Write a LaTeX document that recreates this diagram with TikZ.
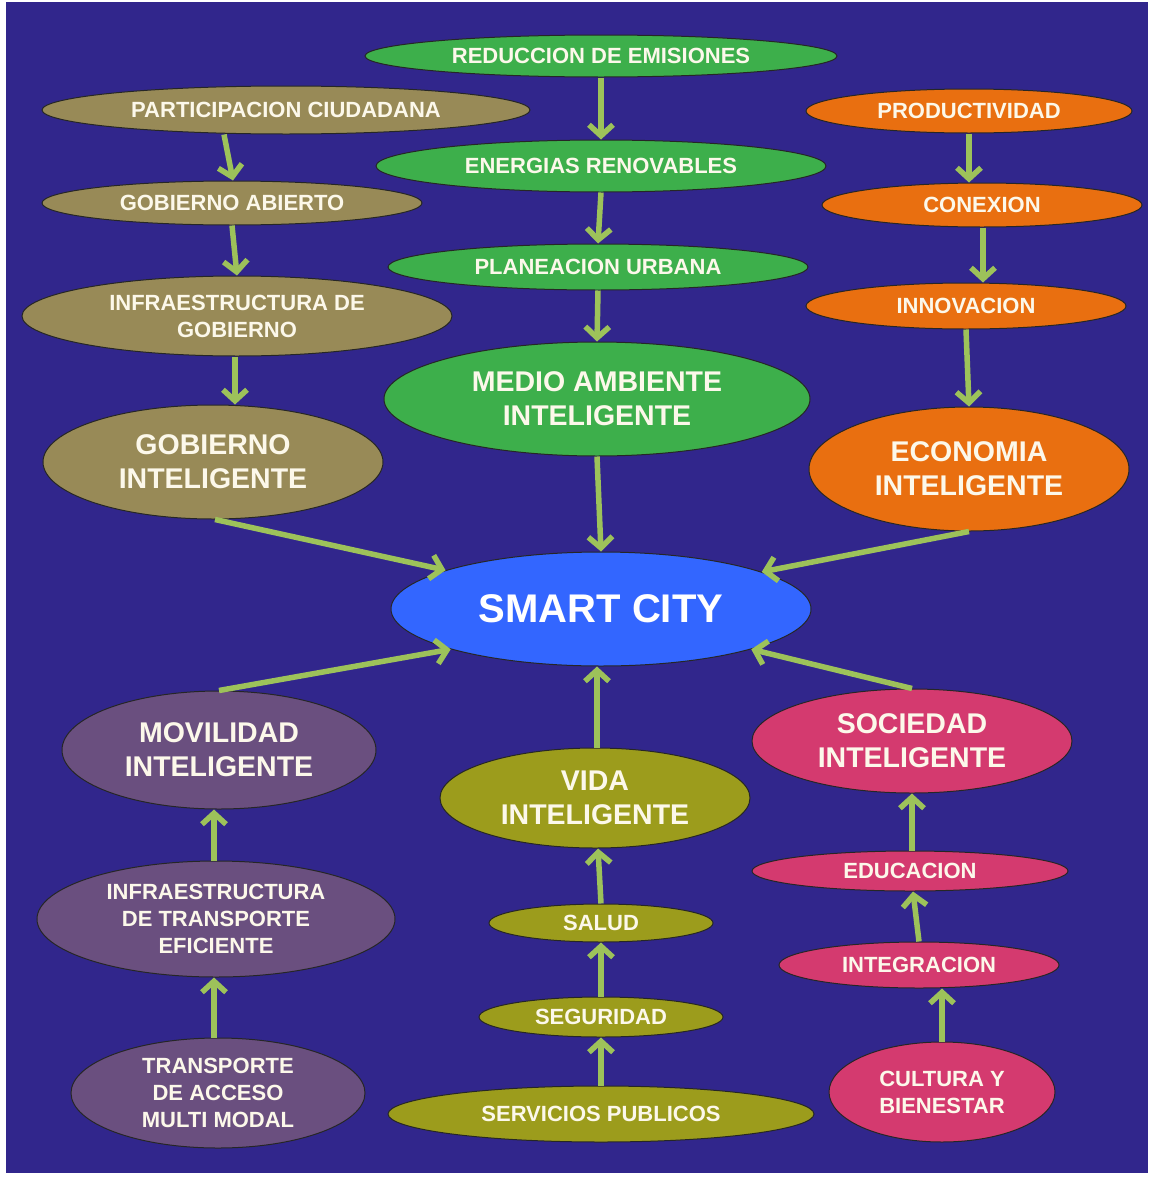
\documentclass[tikz,border=0pt]{standalone}
\usepackage{fontspec}
\setmainfont{Liberation Sans}
\usetikzlibrary{shapes.geometric,arrows.meta,calc}
\definecolor{bg}{RGB}{49,38,140}
\definecolor{txt}{RGB}{252,248,234}
\definecolor{khaki}{RGB}{152,138,87}
\definecolor{grn}{RGB}{61,175,75}
\definecolor{org}{RGB}{233,111,16}
\definecolor{blu}{RGB}{51,102,255}
\definecolor{pur}{RGB}{106,79,127}
\definecolor{olv}{RGB}{156,156,28}
\definecolor{pnk}{RGB}{212,58,111}
\definecolor{arrc}{RGB}{157,194,90}
\begin{document}
\begin{tikzpicture}[x=1pt,y=-1pt,
  el/.style={ellipse,draw=black!85,line width=1pt,inner sep=0pt,text=txt,align=center,
     font=\bfseries\fontsize{22}{27}\selectfont},
  big/.style={font=\bfseries\fontsize{28.5}{34}\selectfont},
  sz/.style 2 args={minimum width=#1pt,minimum height=#2pt},
  arr/.style={draw=arrc,line width=5.5pt,-{Straight Barb[length=11pt,width=24pt]}}]
\useasboundingbox (0,0) rectangle (1151,1178);
\fill[white] (0,0) rectangle (1151,1178);
\fill[bg] (6,2) rectangle (1148,1173);
% green column
\node[el,fill=grn,sz={472}{42}] (re) at (601,56) {REDUCCION DE EMISIONES};
\node[el,fill=grn,sz={450}{52}] (er) at (601,166) {ENERGIAS RENOVABLES};
\node[el,fill=grn,sz={420}{46}] (pu) at (598,267) {PLANEACION URBANA};
\node[el,big,fill=grn,sz={426}{114}] (ma) at (597,399) {MEDIO AMBIENTE\\INTELIGENTE};
% khaki column
\node[el,fill=khaki,sz={488}{48}] (pc) at (286,110) {PARTICIPACION CIUDADANA};
\node[el,fill=khaki,sz={380}{44}] (ga) at (232,203) {GOBIERNO ABIERTO};
\node[el,fill=khaki,sz={430}{80}] (ig) at (237,316) {INFRAESTRUCTURA DE\\GOBIERNO};
\node[el,big,fill=khaki,sz={340}{114}] (gi) at (213,462) {GOBIERNO\\INTELIGENTE};
% orange column
\node[el,fill=org,sz={326}{44}] (pr) at (969,111) {PRODUCTIVIDAD};
\node[el,fill=org,sz={320}{44}] (co) at (982,205) {CONEXION};
\node[el,fill=org,sz={320}{46}] (in) at (966,306) {INNOVACION};
\node[el,big,fill=org,sz={320}{124}] (ei) at (969,469) {ECONOMIA\\INTELIGENTE};
% center
\node[el,fill=blu,sz={420}{114},font=\bfseries\fontsize{40}{46}\selectfont,text=white] (sc) at (601,609) {SMART CITY};
% purple column
\node[el,big,fill=pur,sz={314}{118}] (mi) at (219,750) {MOVILIDAD\\INTELIGENTE};
\node[el,fill=pur,sz={358}{116}] (it) at (216,919) {INFRAESTRUCTURA\\DE TRANSPORTE\\EFICIENTE};
\node[el,fill=pur,sz={294}{110}] (ta) at (218,1093) {TRANSPORTE\\DE ACCESO\\MULTI MODAL};
% olive column
\node[el,big,fill=olv,sz={310}{100}] (vi) at (595,798) {VIDA\\INTELIGENTE};
\node[el,fill=olv,sz={224}{38}] (sa) at (601,923) {SALUD};
\node[el,fill=olv,sz={244}{40}] (se) at (601,1017) {SEGURIDAD};
\node[el,fill=olv,sz={426}{56}] (sp) at (601,1114) {SERVICIOS PUBLICOS};
% pink column
\node[el,big,fill=pnk,sz={320}{104}] (so) at (912,741) {SOCIEDAD\\INTELIGENTE};
\node[el,fill=pnk,sz={316}{40}] (ed) at (910,871) {EDUCACION};
\node[el,fill=pnk,sz={280}{46}] (ing) at (919,965) {INTEGRACION};
\node[el,fill=pnk,sz={226}{100}] (cb) at (942,1092) {CULTURA Y\\BIENESTAR};
% arrows
\draw[arr] (re.south) -- (er.north);
\draw[arr] (er.south) -- (pu.north);
\draw[arr] (pu.south) -- (ma.north);
\draw[arr] (ma.south) -- (sc.north);
\draw[arr] ($(pc.south)+(-62,0)$) -- ($(ga.north)+(1,0)$);
\draw[arr] (ga.south) -- (ig.north);
\draw[arr] ($(ig.south)+(-2,0)$) -- ($(gi.north)+(22,0)$);
\draw[arr] ($(gi.south)+(2,0)$) -- (sc.166);
\draw[arr] (pr.south) -- ($(co.north)+(-13,0)$);
\draw[arr] ($(co.south)+(1,0)$) -- ($(in.north)+(17,0)$);
\draw[arr] (in.south) -- (ei.north);
\draw[arr] (ei.south) -- (sc.13.5);
\draw[arr] (mi.north) -- (sc.195);
\draw[arr] (so.north) -- (sc.345);
\draw[arr] ($(vi.north)+(2,0)$) -- ($(sc.south)+(-4,0)$);
\draw[arr] ($(it.north)+(-2,0)$) -- ($(mi.south)+(-5,0)$);
\draw[arr] ($(ta.north)+(-4,0)$) -- ($(it.south)+(-2,0)$);
\draw[arr] (sa.north) -- ($(vi.south)+(3,0)$);
\draw[arr] (se.north) -- (sa.south);
\draw[arr] (sp.north) -- (se.south);
\draw[arr] ($(ed.north)+(2,0)$) -- (so.south);
\draw[arr] (ing.north) -- ($(ed.south)+(3,0)$);
\draw[arr] (cb.north) -- ($(ing.south)+(23,0)$);
\end{tikzpicture}
\end{document}
